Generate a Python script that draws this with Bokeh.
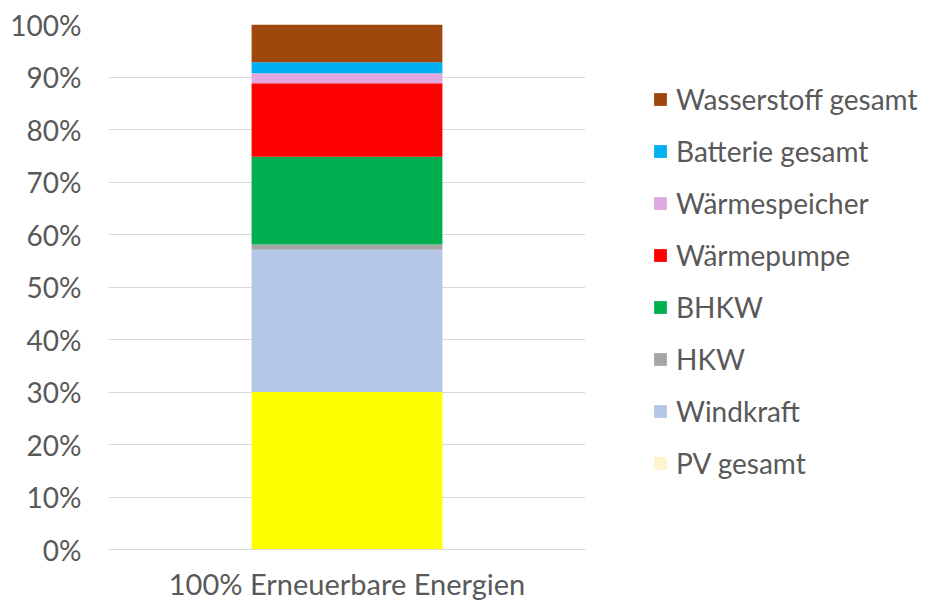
from bokeh.plotting import figure
from bokeh.layouts import row
from bokeh.models import Legend, LegendItem, FactorRange, FixedTicker, NumeralTickFormatter, ColumnDataSource
from bokeh.embed import file_html
from bokeh.resources import INLINE

categories = ["100% Erneuerbare Energien"]
series = ["PV gesamt", "Windkraft", "HKW", "BHKW", "Wärmepumpe",
          "Wärmespeicher", "Batterie gesamt", "Wasserstoff gesamt"]
values = {
    "PV gesamt": [0.300],
    "Windkraft": [0.271],
    "HKW": [0.010],
    "BHKW": [0.167],
    "Wärmepumpe": [0.140],
    "Wärmespeicher": [0.019],
    "Batterie gesamt": [0.021],
    "Wasserstoff gesamt": [0.072],
}
bar_colors = ["#FFFF00", "#B4C7E7", "#A5A5A5", "#00B050", "#FF0000",
              "#DFA9DF", "#00B0F0", "#9E480E"]
legend_colors = ["#FFF2CC", "#B4C7E7", "#A5A5A5", "#00B050", "#FF0000",
                 "#DFA9DF", "#00B0F0", "#9E480E"]
y_ticks = [i / 10 for i in range(11)]

FONT = "Lato"
TXT = "#595959"

data = {"cat": categories}
data.update(values)
src = ColumnDataSource(data)

p = figure(width=600, height=603, x_range=FactorRange(*categories),
           y_range=(0, 1), output_backend="svg", toolbar_location=None,
           min_border_left=108, min_border_top=24, min_border_bottom=52,
           min_border_right=15)
p.outline_line_color = None

p.vbar_stack(series, x="cat", width=0.40, source=src, color=bar_colors,
             line_color=None)

p.yaxis.ticker = FixedTicker(ticks=y_ticks)
p.yaxis.formatter = NumeralTickFormatter(format="0%")
p.yaxis.axis_line_color = None
p.yaxis.major_tick_line_color = None
p.yaxis.minor_tick_line_color = None
p.yaxis.major_label_standoff = 21
p.yaxis.major_label_text_font = FONT
p.yaxis.major_label_text_font_size = "28px"
p.yaxis.major_label_text_color = TXT

p.xaxis.axis_line_color = "#D9D9D9"
p.xaxis.axis_line_width = 1
p.xaxis.major_tick_line_color = None
p.xaxis.minor_tick_line_color = None
p.xaxis.major_label_standoff = 10
p.xaxis.major_label_text_font = FONT
p.xaxis.major_label_text_font_size = "29px"
p.xaxis.major_label_text_color = TXT

p.xgrid.grid_line_color = None
p.ygrid.grid_line_color = "#D9D9D9"
p.ygrid.grid_line_width = 1

# legend panel
p2 = figure(width=326, height=603, x_range=(0, 1), y_range=(0, 1),
            output_backend="svg", toolbar_location=None,
            x_axis_type=None, y_axis_type=None,
            min_border=0)
p2.outline_line_color = None
p2.grid.grid_line_color = None

items = []
for name, c in zip(series, legend_colors):
    r = p2.vbar(x=[0.5], top=[float("nan")], width=0.1, fill_color=c,
                line_color=None)
    items.append(LegendItem(label=name, renderers=[r]))
items = items[::-1]

legend = Legend(items=items, location=(52, 69))
legend.margin = 0
legend.padding = 0
legend.border_line_color = None
legend.background_fill_alpha = 0
legend.glyph_width = 16
legend.glyph_height = 16
legend.label_height = 32
legend.spacing = 18
legend.label_standoff = 8
legend.label_text_font = FONT
legend.label_text_font_size = "28px"
legend.label_text_color = TXT
p2.add_layout(legend, "center")

layout = row(p, p2)
open("out.html", "w").write(file_html(layout, INLINE))
